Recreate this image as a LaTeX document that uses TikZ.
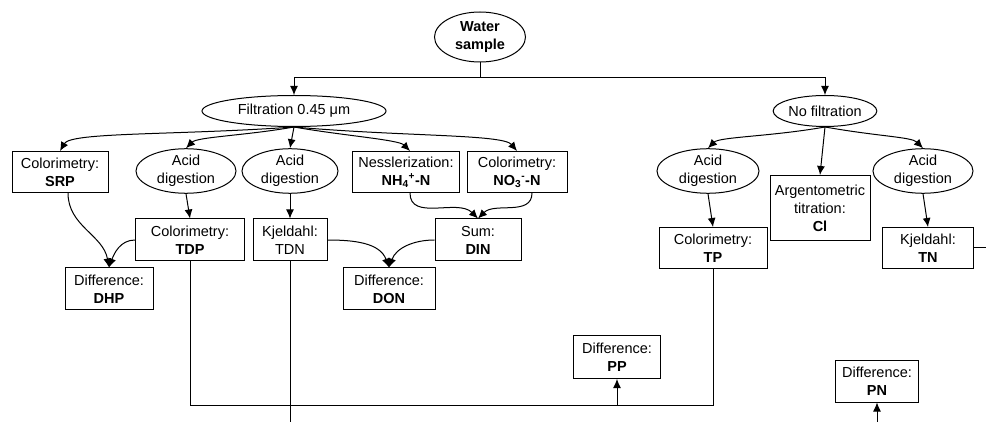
\documentclass[tikz,border=0pt]{standalone}
\usepackage{fontspec}
\setmainfont{Liberation Sans}
\usetikzlibrary{shapes.geometric,arrows.meta}

\tikzset{
  box/.style={draw, rectangle, align=center, minimum height=41pt, inner sep=2pt},
  oval/.style={draw, ellipse, align=center, inner sep=0pt},
  >={Latex[length=9pt,width=8pt]}
}

\begin{document}
\begin{tikzpicture}[x=1pt,y=-1pt,line width=1pt,font=\fontsize{14.5}{18}\selectfont]
      \useasboundingbox (0,0) rectangle (986,422);

      \node[oval, minimum width=91pt, minimum height=50pt] (WS) at (480,37) {\textbf{Water}\\\textbf{sample}};
      \coordinate (J0) at (480,78);

      \node[oval, minimum width=184pt, minimum height=31pt] (FIL) at (294,111) {Filtration 0.45 μm};
      \node[oval, minimum width=101pt, minimum height=31pt] (NF) at (825,111) {No filtration};

      \node[box, minimum width=96pt] (SRP) at (60,172) {Colorimetry:\\\textbf{SRP}};
      \node[oval, minimum width=100pt, minimum height=42pt] (AD1) at (186,171) {Acid\\digestion};
      \node[oval, minimum width=96pt, minimum height=42pt] (AD2) at (290,171) {Acid\\digestion};
      \node[box, minimum width=107pt] (NH4) at (406,172) {Nesslerization:\\\textbf{NH\textsubscript{4}\textsuperscript{+}-N}};
      \node[box, minimum width=100pt] (NO3) at (517,172) {Colorimetry:\\\textbf{NO\textsubscript{3}\textsuperscript{-}-N}};

      \node[box, minimum width=109pt, minimum height=42pt] (TDP) at (190,240) {Colorimetry:\\\textbf{TDP}};
      \node[box, minimum width=74pt, minimum height=42pt] (TDN) at (290,240) {Kjeldahl:\\TDN};
      \node[box, minimum width=86pt, minimum height=42pt] (DIN) at (478,240) {Sum:\\\textbf{DIN}};

      \node[box, minimum width=88pt, minimum height=42pt] (DHP) at (109,289) {Difference:\\\textbf{DHP}};
      \node[box, minimum width=92pt, minimum height=42pt] (DON) at (389,289) {Difference:\\\textbf{DON}};

      \node[oval, minimum width=102pt, minimum height=42pt] (AD3) at (708,171) {Acid\\digestion};
      \node[box, minimum width=100pt, minimum height=65pt] (ARG) at (820,208) {Argentometric\\titration:\\\textbf{Cl}};
      \node[oval, minimum width=100pt, minimum height=42pt] (AD4) at (923,171) {Acid\\digestion};

      \node[box, minimum width=108pt] (TP) at (713,248) {Colorimetry:\\\textbf{TP}};
      \node[box, minimum width=91pt] (TN) at (928,248) {Kjeldahl:\\\textbf{TN}};

      \node[box, minimum width=87pt, minimum height=43pt] (PP) at (617,357) {Difference:\\\textbf{PP}};
      \node[box, minimum width=83pt, minimum height=42pt] (PN) at (877,381) {Difference:\\\textbf{PN}};

      \coordinate (PPin) at (617,405);
      \coordinate (TDNend) at (290,422);
      \coordinate (PNin) at (877,422);
      \coordinate (TNout) at (986,248);

      % split of the sample
      \draw (WS) -- (J0);
      \draw [->] (J0) -| (FIL);
      \draw [->] (J0) -| (NF);

      % filtered branch
      \draw [->] (FIL.south) to[out=-176,in=60,out distance=120pt,in distance=22pt] (SRP.north);
      \draw [->] (FIL.south) to[out=-170,in=45,out distance=50pt,in distance=16pt] (AD1.north);
      \draw [->] (FIL.south) -- (AD2.north);
      \draw [->] (FIL.south) to[out=-10,in=135,out distance=50pt,in distance=16pt] ([xshift=4pt]NH4.north);
      \draw [->] (FIL.south) to[out=-5,in=130,out distance=110pt,in distance=22pt] (NO3.north);
      \draw [->] (AD1.south) -- (TDP.north);
      \draw [->] (AD2.south) -- (TDN.north);
      \draw [->] ([xshift=8pt]SRP.south) to[out=-90,in=100] (DHP.north);
      \draw [->] (TDP.west) to[out=180,in=70] (DHP.north);
      \draw [->] (TDN.east) to[out=0,in=110] (DON.north);
      \draw [->] (DIN.west) to[out=180,in=70] (DON.north);
      \draw [->] ([xshift=4pt]NH4.south) to[out=-90,in=135] (DIN.north);
      \draw [->] ([xshift=15pt]NO3.south) to[out=-90,in=45] (DIN.north);

      % unfiltered branch
      \draw [->] (NF.south) to[out=-170,in=45,out distance=55pt,in distance=16pt] (AD3.north);
      \draw [->] (NF.south) -- (ARG.north);
      \draw [->] (NF.south) to[out=-10,in=135,out distance=55pt,in distance=16pt] (AD4.north);
      \draw [->] (AD3.south) -- (TP.north);
      \draw [->] (AD4.south) -- (TN.north);

      % totals to differences
      \draw (TDP.south) -- (TDP.south |- PPin) -| (TP.south);
      \draw [->] (PPin) -- (PP.south);
      \draw (TDN.south) -- (TDNend);
      \draw (TN.east) -- (TNout);
      \draw [->] (PNin) -- (PN.south);
  \end{tikzpicture}
\end{document}
